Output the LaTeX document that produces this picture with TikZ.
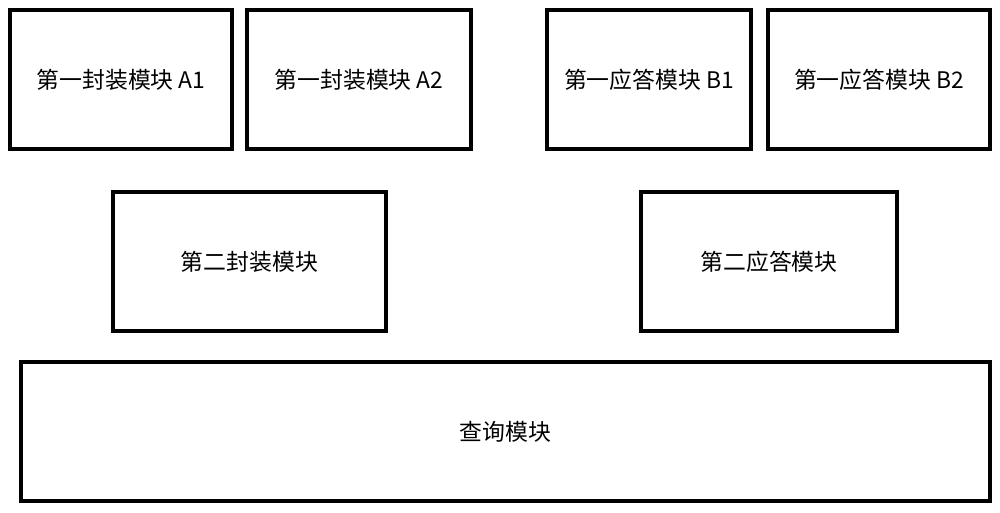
\documentclass[tikz,border=0pt]{standalone}
\usepackage{fontspec}
\setmainfont{Noto Sans CJK SC}
\begin{document}
\begin{tikzpicture}[modbox/.style={draw,line width=2.8pt,minimum height=2.78cm,inner sep=0pt,font=\fontsize{13}{15}\selectfont}]
                \useasboundingbox (0,0) rectangle (20,-10.24);
                \node[modbox,minimum width=4.44cm] (fengA1) at (2.42,-1.59) {第一封装模块 A1};
                \node[modbox,minimum width=4.48cm] (fengA2) at (7.18,-1.59) {第一封装模块 A2};
                \node[modbox,minimum width=4.08cm] (daB1) at (12.98,-1.59) {第一应答模块 B1};
                \node[modbox,minimum width=4.44cm] (daB2) at (17.58,-1.59) {第一应答模块 B2};
                \node[modbox,minimum width=5.46cm] (feng2) at (4.99,-5.23) {第二封装模块};
                \node[modbox,minimum width=5.12cm] (da2) at (15.38,-5.23) {第二应答模块};
                \node[modbox,minimum width=19.38cm] (chaxun) at (10.11,-8.63) {查询模块};
            \end{tikzpicture}
\end{document}
